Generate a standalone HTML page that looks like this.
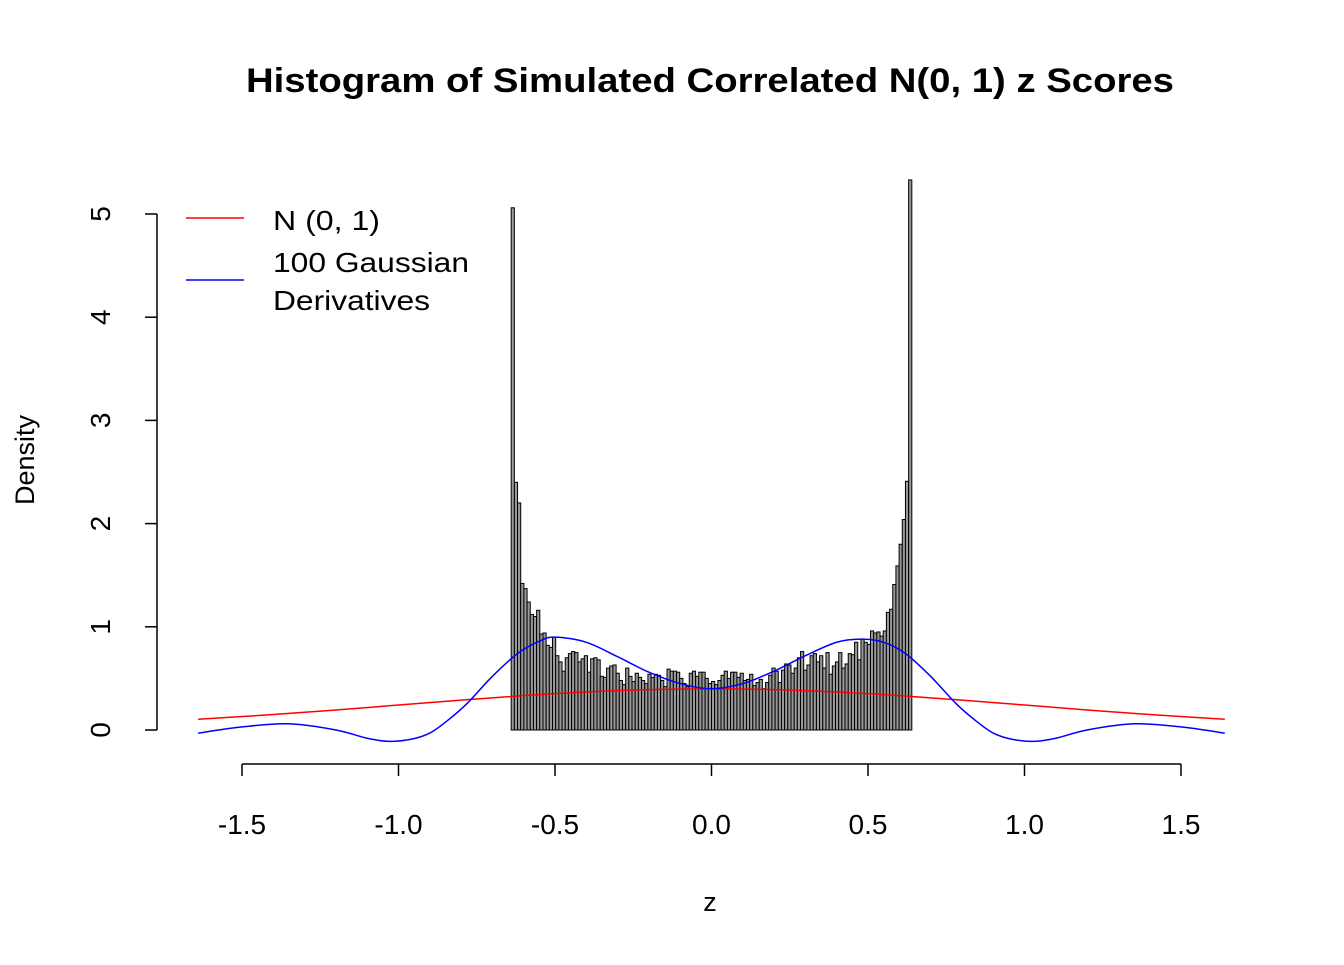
<!DOCTYPE html>
<html><head><meta charset="utf-8"><style>
body{margin:0;background:#fff}
text{font-family:"Liberation Sans",Arial,sans-serif;fill:#000}
</style></head><body>
<svg id="chart" width="1344" height="960" xmlns="http://www.w3.org/2000/svg">
<text x="710" y="92" text-anchor="middle" font-size="34" font-weight="bold" textLength="928" lengthAdjust="spacingAndGlyphs">Histogram of Simulated Correlated N(0, 1) z Scores</text>
<text x="710" y="911" text-anchor="middle" font-size="27">z</text>
<text transform="translate(34,460) rotate(-90)" text-anchor="middle" font-size="27">Density</text>
<g id="bars"></g>
<g id="axes"></g>
<g id="lines"></g>
<g>
<line x1="186" y1="218" x2="244" y2="218" stroke="#f00" stroke-width="1.5"/>
<text x="273" y="230" font-size="28" textLength="107" lengthAdjust="spacingAndGlyphs">N (0, 1)</text>
<line x1="186" y1="280" x2="244" y2="280" stroke="#00f" stroke-width="1.5"/>
<text x="273" y="272" font-size="28" textLength="196" lengthAdjust="spacingAndGlyphs">100 Gaussian</text>
<text x="273" y="310" font-size="28" textLength="157" lengthAdjust="spacingAndGlyphs">Derivatives</text>
</g>
</svg>
<script>
const binStart = -0.64;
const binWidth = 0.01;
const densities = [5.06,2.4,2.2,1.42,1.37,1.24,1.12,1.1,1.16,0.93,0.94,0.82,0.80,0.90,0.72,0.66,0.57,0.70,0.74,0.76,0.75,0.66,0.69,0.72,0.56,0.69,0.70,0.68,0.52,0.51,0.60,0.62,0.63,0.55,0.48,0.44,0.60,0.52,0.47,0.55,0.51,0.48,0.45,0.54,0.51,0.54,0.53,0.48,0.42,0.59,0.57,0.57,0.56,0.50,0.45,0.42,0.55,0.57,0.52,0.56,0.56,0.50,0.45,0.47,
0.44,0.48,0.53,0.57,0.50,0.56,0.56,0.51,0.55,0.48,0.49,0.54,0.43,0.46,0.49,0.40,0.46,0.53,0.60,0.57,0.46,0.58,0.64,0.63,0.55,0.60,0.70,0.76,0.58,0.63,0.72,0.74,0.66,0.72,0.60,0.75,0.54,0.62,0.66,0.75,0.60,0.64,0.74,0.73,0.85,0.68,0.88,0.85,0.83,0.96,0.94,0.95,0.91,0.96,1.14,1.17,1.41,1.59,1.80,2.04,2.41,5.33];
const normZ = [-1.64,-1.4,-1.2,-1.0,-0.8,-0.6,-0.4,-0.2,0,0.2,0.4,0.6,0.8,1.0,1.2,1.4,1.64];
const normD = [0.104,0.150,0.194,0.242,0.290,0.333,0.368,0.391,0.399,0.391,0.368,0.333,0.290,0.242,0.194,0.150,0.104];
const gdZ = [-1.64,-1.5,-1.35,-1.2,-1.1,-1.03,-0.96,-0.9,-0.84,-0.78,-0.7,-0.62,-0.55,-0.5,-0.4,-0.3,-0.2,-0.1,0,0.1,0.2,0.3,0.4,0.48,0.55,0.62,0.7,0.78,0.84,0.9,0.96,1.03,1.1,1.2,1.35,1.5,1.64];
const gdD = [-0.03,0.03,0.06,0.0,-0.08,-0.11,-0.09,-0.03,0.1,0.26,0.52,0.74,0.86,0.9,0.85,0.71,0.56,0.45,0.4,0.45,0.57,0.72,0.85,0.88,0.85,0.74,0.52,0.26,0.1,-0.03,-0.09,-0.11,-0.08,0.0,0.06,0.03,-0.03];
const xTicks = [-1.5,-1.0,-0.5,0.0,0.5,1.0,1.5];
const xTickLabels = ["-1.5","-1.0","-0.5","0.0","0.5","1.0","1.5"];
const yTicks = [0,1,2,3,4,5];

const binCount = densities.length;
const X = z => 711.5 + z*313;
const Y = d => 730 - d*103.2;
const NS = "http://www.w3.org/2000/svg";
function mk(tag, attrs, parent){const e=document.createElementNS(NS,tag);for(const k in attrs)e.setAttribute(k,attrs[k]);parent.appendChild(e);return e;}

const bars = document.getElementById('bars');
const bw = (X(0.64)-X(binStart))/binCount;
densities.forEach((d,i)=>{
  const x0=X(binStart)+i*bw;
  const r=mk('rect',{x:x0,y:Y(d),width:bw,height:Y(0)-Y(d),fill:'#999',stroke:'#000','stroke-width':1},bars);
  
  
});

const axes = document.getElementById('axes');
const xl=mk('line',{x1:X(-1.5),x2:X(1.5),y1:764,y2:764,stroke:'#000','stroke-width':1.5},axes);


xTicks.forEach((t,i)=>{
  const tk=mk('line',{x1:X(t),x2:X(t),y1:764,y2:776,stroke:'#000','stroke-width':1.5},axes);
  
  
  const lb=mk('text',{x:X(t),y:834,'text-anchor':'middle','font-size':28},axes);
  lb.textContent=xTickLabels[i];
  
  
});
const yl=mk('line',{x1:157,x2:157,y1:Y(0),y2:Y(5),stroke:'#000','stroke-width':1.5},axes);


yTicks.forEach(t=>{
  const tk=mk('line',{x1:145,x2:157,y1:Y(t),y2:Y(t),stroke:'#000','stroke-width':1.5},axes);
  
  
  const lb=mk('text',{transform:`translate(110,${Y(t)}) rotate(-90)`,'text-anchor':'middle','font-size':28},axes);
  lb.textContent=String(t);
  
  
});

function smoothPath(zs, ds){
  const p=zs.map((z,i)=>[X(z),Y(ds[i])]);
  let s=`M${p[0][0]},${p[0][1]}`;
  for(let i=0;i<p.length-1;i++){
    const p0=p[Math.max(0,i-1)],p1=p[i],p2=p[i+1],p3=p[Math.min(p.length-1,i+2)];
    const c1=[p1[0]+(p2[0]-p0[0])/6,p1[1]+(p2[1]-p0[1])/6];
    const c2=[p2[0]-(p3[0]-p1[0])/6,p2[1]-(p3[1]-p1[1])/6];
    s+=` C${c1[0]},${c1[1]} ${c2[0]},${c2[1]} ${p2[0]},${p2[1]}`;
  }
  return s;
}
const lines=document.getElementById('lines');
const red=mk('path',{d:smoothPath(normZ,normD),fill:'none',stroke:'#f00','stroke-width':1.5},lines);


const blue=mk('path',{d:smoothPath(gdZ,gdD),fill:'none',stroke:'#00f','stroke-width':1.5},lines);


</script>
</body></html>
